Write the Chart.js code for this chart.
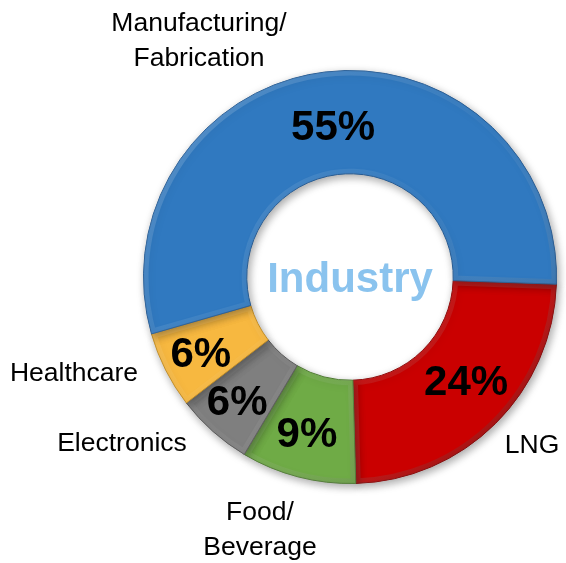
<!DOCTYPE html>
<html lang="en">
<head>
  <meta charset="UTF-8">
  <script src="https://cdn.jsdelivr.net/npm/chart.js"></script>
  <title>Industry</title>
  <style>
    body { margin: 0; background: #fff; }
  </style>
</head>
<body>
  <canvas id="chartDoughnut" width="566" height="563"></canvas>

<script>
  // dados do gráfico
  const categorias = ['LNG', 'Food/Beverage', 'Electronics', 'Healthcare', 'Manufacturing/Fabrication'];
  const percentuais = [24, 9, 6, 6, 55];
  const rotulosExternos = [['LNG'], ['Food/', 'Beverage'], ['Electronics'], ['Healthcare'], ['Manufacturing/', 'Fabrication']];
  const tituloCentro = 'Industry';

  const cores = ['#CA0000', '#6FAB46', '#7F7F7F', '#F7B840', '#3079C0'];
  const bordas = ['#8E0000', '#4C7A2E', '#555555', '#C08A20', '#1F5690'];

  const fonte = '"Liberation Sans", Arial, sans-serif';

  // posição dos rótulos externos, relativa ao centro do anel
  const posExterna = [[182, 166], [-90, 233], [-228, 164], [-276, 94], [-151, -256]];
  // pequeno ajuste dos percentuais em relação ao meio da fatia
  const ajustePct = [[7, -7], [-4, 5], [-10, 7], [-11, 5], [2, 2]];

  const sombra = {
    id: 'sombra',
    beforeDatasetsDraw(chart) {
      const ctx = chart.ctx;
      ctx.save();
      ctx.shadowColor = 'rgba(0,0,0,0.35)';
      ctx.shadowBlur = 8;
      ctx.shadowOffsetX = 2;
      ctx.shadowOffsetY = 3;
    },
    afterDatasetsDraw(chart) {
      chart.ctx.restore();
      // efeito de chanfro em cada fatia
      const ctx = chart.ctx;
      chart.getDatasetMeta(0).data.forEach(function (arc) {
        const p = arc.getProps(['x', 'y', 'startAngle', 'endAngle', 'innerRadius', 'outerRadius'], true);
        ctx.save();
        ctx.beginPath();
        ctx.arc(p.x, p.y, p.outerRadius, p.startAngle, p.endAngle);
        ctx.arc(p.x, p.y, p.innerRadius, p.endAngle, p.startAngle, true);
        ctx.closePath();
        ctx.clip();
        const g = ctx.createLinearGradient(p.x - p.outerRadius, p.y - p.outerRadius, p.x + p.outerRadius, p.y + p.outerRadius);
        g.addColorStop(0, 'rgba(255,255,255,0.2)');
        g.addColorStop(0.5, 'rgba(255,255,255,0.03)');
        g.addColorStop(1, 'rgba(0,0,0,0.35)');
        ctx.strokeStyle = g;
        ctx.lineWidth = 10;
        ctx.lineJoin = 'miter';
        ctx.stroke();
        ctx.restore();
      });
    }
  };

  const rotulos = {
    id: 'rotulos',
    afterDraw(chart) {
      const ctx = chart.ctx;
      const arcs = chart.getDatasetMeta(0).data;
      const cx = arcs[0].x, cy = arcs[0].y;
      ctx.save();
      ctx.textAlign = 'center';
      ctx.textBaseline = 'alphabetic';

      // percentuais dentro das fatias
      ctx.font = 'bold 42px ' + fonte;
      ctx.fillStyle = '#000';
      arcs.forEach(function (arc, i) {
        const p = arc.tooltipPosition();
        ctx.fillText(percentuais[i] + '%', p.x + ajustePct[i][0], p.y + ajustePct[i][1] + 15);
      });

      // nomes fora do anel
      ctx.font = '26.5px ' + fonte;
      rotulosExternos.forEach(function (linhas, i) {
        linhas.forEach(function (txt, j) {
          ctx.fillText(txt, cx + posExterna[i][0], cy + posExterna[i][1] + j * 35 + 9.5);
        });
      });

      // título no centro
      ctx.font = 'bold 42px ' + fonte;
      ctx.fillStyle = '#8AC3EE';
      ctx.fillText(tituloCentro, cx, cy + 15);
      ctx.restore();
    }
  };

  const dataModali = {
    labels: categorias,
    datasets: [{
      data: percentuais,
      backgroundColor: cores,
      borderColor: bordas,
      borderWidth: 1,
      hoverOffset: 0
    }]
  };

  const configModali = {
    type: 'doughnut',
    data: dataModali,
    options: {
      responsive: false,
      animation: false,
      rotation: 92,
      cutout: '50%',
      layout: { padding: { left: 143, right: 9, top: 70, bottom: 79 } },
      plugins: {
        legend: { display: false },
        tooltip: { enabled: false }
      }
    },
    plugins: [sombra, rotulos]
  };

  const modali = new Chart(document.getElementById('chartDoughnut'), configModali);
</script>
</body>
</html>
